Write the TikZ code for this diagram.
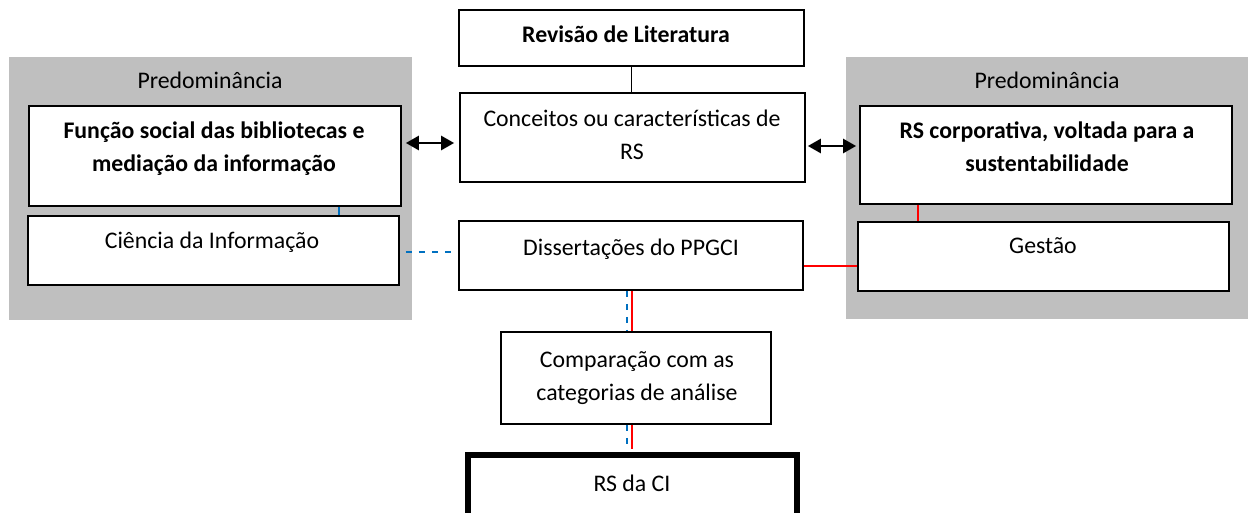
\documentclass[tikz,border=0pt]{standalone}
\usepackage{fontspec}
\setmainfont{Carlito}
\usetikzlibrary{arrows.meta,calc}
\definecolor{panelgray}{HTML}{BFBFBF}
\definecolor{cblue}{HTML}{0070C0}
\definecolor{cred}{HTML}{FF0000}
\begin{document}
\begin{tikzpicture}[x=1pt,y=-1pt,
  box/.style={draw=black, line width=1.7pt, fill=white, inner sep=0pt},
  thickbox/.style={box, line width=6pt},
  txt/.style={font=\fontsize{23.8}{33}\selectfont, inner sep=0pt, align=center, anchor=base},
  btxt/.style={txt, font=\fontsize{23.8}{33}\selectfont\bfseries},
  bi/.style={line width=2.5pt, {Triangle[length=13pt,width=14pt]}-{Triangle[length=13pt,width=14pt]}},
  bluedash/.style={draw=cblue, line width=1.5pt, dash pattern=on 6.5pt off 6.5pt},
  bluesolid/.style={draw=cblue, line width=1.5pt},
  redline/.style={draw=cred, line width=1.5pt},
  blackline/.style={draw=black, line width=1.7pt},
]
\useasboundingbox (0,0) rectangle (1248,513);
% panels
\fill[panelgray] (9,57) rectangle (412,320);
\fill[panelgray] (846,57) rectangle (1248,319);
\node[txt] (lpred) at (210,89) {Predominância};
\node[txt] (rpred) at (1047,89) {Predominância};
% boxes
\node[box, minimum width=372, minimum height=100] (func) at (215,156) {};
\node[box, minimum width=371, minimum height=69] (cien) at (213.5,250.5) {};
\node[box, minimum width=345, minimum height=56] (rev) at (631.5,38) {};
\node[box, minimum width=345, minimum height=89] (conc) at (632.5,137.5) {};
\node[box, minimum width=372, minimum height=98] (rsc) at (1046,155) {};
\node[box, minimum width=371, minimum height=69] (gest) at (1043.5,256.5) {};
\node[box, minimum width=344, minimum height=69] (diss) at (631,255.5) {};
\node[box, minimum width=270, minimum height=92] (comp) at (636,378) {};
\node[thickbox, minimum width=329, minimum height=61] (rsci) at (632.5,485.5) {};
% texts (multi-line: base anchor = last line's baseline)
\node[btxt] (funcT) at (214,172) {Função social das bibliotecas e\\mediação da informação};
\node[txt] (cienT) at (212,249) {Ciência da Informação};
\node[btxt] (revT) at (626,43) {Revisão de Literatura};
\node[txt] (concT) at (632,160) {Conceitos ou características de\\RS};
\node[btxt] (rscT) at (1047,172) {RS corporativa, voltada para a\\sustentabilidade};
\node[txt] (gestT) at (1043,254) {Gestão};
\node[txt] (dissT) at (631,255) {Dissertações do PPGCI};
\node[txt] (compT) at (637,400) {Comparação com as\\categorias de análise};
\node[txt] (rsciT) at (632,491) {RS da CI};
% connectors
\draw[blackline] (rev.south) -- (rev.south |- conc.north);
\draw[bi] ($(func.east)+(4,-13)$) -- ($(conc.west)+(-5,5.5)$);
\draw[bi] ($(conc.east)+(2,8.5)$) -- ($(rsc.west)+(-3,-9)$);
\draw[bluesolid] ($(func.south east)+(-63,0)$) -- ($(cien.north east)+(-61,0)$);
\draw[bluedash] ($(cien.east)+(6,1.5)$) -- ($(diss.west)+(-4,-3.5)$);
\draw[redline] ($(diss.east)+(0,10.5)$) -- ($(gest.west)+(0,9.5)$);
\draw[redline] ($(rsc.south west)+(59,0)$) -- ($(gest.north west)+(61,0)$);
\draw[bluedash] ($(diss.south)+(-4,0)$) -- ($(comp.north)+(-9,0)$);
\draw[redline] ($(diss.south)+(1,0)$) -- ($(comp.north)+(-4,0)$);
\draw[bluedash] ($(comp.south)+(-9,0)$) -- ($(rsci.north)+(-5.5,-3)$);
\draw[redline] ($(comp.south)+(-4,0)$) -- ($(rsci.north)+(-0.5,-3)$);
\end{tikzpicture}
\end{document}
